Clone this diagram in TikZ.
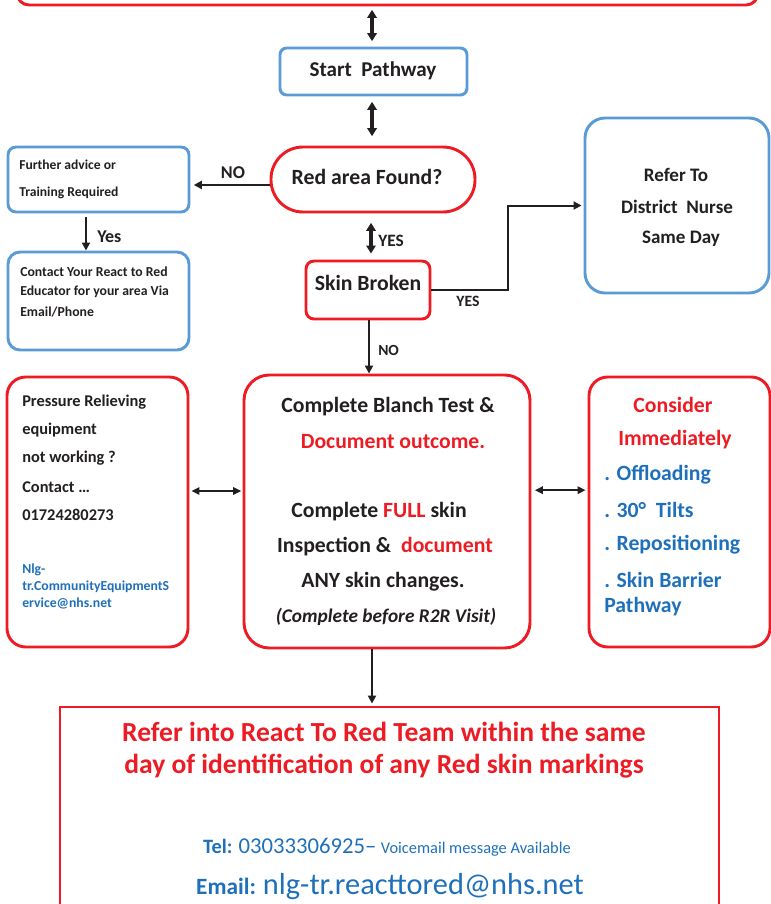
\documentclass[tikz,border=0pt]{standalone}
\usepackage{fontspec}
\setmainfont{Carlito}
\usetikzlibrary{arrows.meta}

\definecolor{rtrRed}{RGB}{237,28,36}
\definecolor{rtrBlue}{RGB}{91,155,213}
\definecolor{rtrLink}{RGB}{31,112,186}
\definecolor{rtrText}{RGB}{35,31,32}

\newcommand{\fsz}[1]{\fontsize{#1}{#1}\selectfont\bfseries}

\tikzset{
  redbox/.style={draw=rtrRed, line width=2.2pt},
  bluebox/.style={draw=rtrBlue, line width=2.2pt},
  dblarrow/.style={line width=2.4pt, {Triangle[length=6pt,width=7pt]}-{Triangle[length=6pt,width=7pt]}},
  sidearrow/.style={line width=1.4pt, {Triangle[length=6pt,width=5.5pt]}-{Triangle[length=6pt,width=5.5pt]}},
  onearrow/.style={line width=1.5pt, -{Triangle[length=6pt,width=6pt]}}
}

\begin{document}
\begin{tikzpicture}[x=0.75pt,y=0.75pt,yscale=-1,xscale=1,color=rtrText]
\useasboundingbox (0,0) rectangle (771,904);
\clip (0,0) rectangle (771,904);

%Shape: Rounded Rect (top, cut off)
\node (topBox) [redbox, minimum width=555.75pt, minimum height=52.5pt, rounded corners=9pt] at (387.5,-30) {};
%Shape: Rounded Rect
\node (startBox) [bluebox, minimum width=140.25pt, minimum height=35.25pt, rounded corners=5pt] at (373.5,71.5) {};
%Shape: Stadium
\node (foundBox) [redbox, minimum width=153pt, minimum height=48.75pt, rounded corners=24pt] at (373,179.5) {};
%Shape: Rounded Rect
\node (adviceBox) [bluebox, minimum width=135.75pt, minimum height=48.75pt, rounded corners=6pt] at (98.5,179.5) {};
%Shape: Rounded Rect
\node (contactBox) [bluebox, minimum width=135.75pt, minimum height=73.5pt, rounded corners=9pt] at (98.5,301) {};
%Shape: Rounded Rect
\node (skinBox) [redbox, minimum width=93pt, minimum height=43.5pt, rounded corners=6pt] at (368,290) {};
%Shape: Rounded Rect
\node (nurseBox) [bluebox, minimum width=138pt, minimum height=131.25pt, rounded corners=15pt] at (677,205.5) {};
%Shape: Rounded Rect
\node (equipBox) [redbox, minimum width=135.75pt, minimum height=202.5pt, rounded corners=14pt] at (97.5,512) {};
%Shape: Rounded Rect
\node (blanchBox) [redbox, minimum width=214.5pt, minimum height=204.75pt, rounded corners=19pt] at (387,511.5) {};
%Shape: Rounded Rect
\node (considerBox) [redbox, minimum width=135.75pt, minimum height=202.5pt, rounded corners=14pt] at (679.5,512) {};
%Shape: Rectangle (bottom, cut off)
\node (referBox) [redbox, minimum width=494.25pt, minimum height=159.75pt] at (389.5,813.5) {};

%Connectors (yshift goes through yscale=-1, so + is down)
\draw [dblarrow, shorten <=2.5pt, shorten >=4pt] ([xshift=-11.6pt]topBox.south) -- ([xshift=-11.6pt]topBox.south |- startBox.north);
\draw [dblarrow, shorten <=4pt, shorten >=7pt] ([xshift=-1.1pt]startBox.south) -- ([xshift=-1.1pt]startBox.south |- foundBox.north);
\draw [onearrow, shorten >=2.5pt] ([yshift=4.1pt]foundBox.west) -- ([yshift=4.1pt]adviceBox.east);
\draw [onearrow, shorten <=2.5pt, shorten >=0pt] ([xshift=-9.4pt]adviceBox.south) -- ([xshift=-9.4pt]adviceBox.south |- contactBox.north);
\draw [dblarrow, shorten <=7pt, shorten >=4.5pt] ([xshift=-1.5pt]foundBox.south) -- ([xshift=-1.5pt]foundBox.south |- skinBox.north);
\draw [onearrow, shorten >=1.5pt] (skinBox.east) -- ++(77,0) |- (nurseBox.west);
\draw [onearrow, shorten >=0pt] ([xshift=0.75pt]skinBox.south) -- ([xshift=0.75pt]skinBox.south |- blanchBox.north);
\draw [sidearrow, shorten <=1.5pt, shorten >=1pt] ([yshift=-15.75pt]equipBox.east) -- ([yshift=-15.75pt]equipBox.east -| blanchBox.west);
\draw [sidearrow, shorten <=2.5pt, shorten >=1.5pt] ([yshift=-16pt]blanchBox.east) -- ([yshift=-16pt]blanchBox.east -| considerBox.west);
\draw [onearrow, shorten >=1.5pt] ([xshift=-11.25pt]blanchBox.south) -- ([xshift=-11.25pt]blanchBox.south |- referBox.north);

% Text Node
\draw (373,71) node (startTxt) [anchor=center][inner sep=0.75pt] [font=\fsz{15.8}] {Start~ Pathway};
% Text Node
\draw (367,177) node (foundTxt) [anchor=center][inner sep=0.75pt] [font=\fsz{16.3}] {Red area Found?};
% Text Node
\draw (233,173) node (noLeft) [anchor=center][inner sep=0.75pt] [font=\fsz{13.5}] {NO};
% Text Node
\draw (18,165) node (adviceA) [anchor=west][inner sep=0.75pt] [font=\fsz{10.2}] {Further advice or};
% Text Node
\draw (18,193) node (adviceB) [anchor=west][inner sep=0.75pt] [font=\fsz{10.2}] {Training Required};
% Text Node
\draw (96,237) node (yesLeft) [anchor=west][inner sep=0.75pt] [font=\fsz{13.5}] {Yes};
% Text Node
\draw (19,272) node (contactA) [anchor=west][inner sep=0.75pt] [font=\fsz{10.3}] {Contact Your React to Red};
% Text Node
\draw (19,292) node (contactB) [anchor=west][inner sep=0.75pt] [font=\fsz{10.3}] {Educator for your area Via};
% Text Node
\draw (19,312) node (contactC) [anchor=west][inner sep=0.75pt] [font=\fsz{10.3}] {Email/Phone};
% Text Node
\draw (377,241) node (yesMid) [anchor=west][inner sep=0.75pt] [font=\fsz{13}] {YES};
% Text Node
\draw (368,283) node (skinTxt) [anchor=center][inner sep=0.75pt] [font=\fsz{16.3}] {Skin Broken};
% Text Node
\draw (468,301) node (yesRight) [anchor=center][inner sep=0.75pt] [font=\fsz{11.8}] {YES};
% Text Node
\draw (377,350) node (noMid) [anchor=west][inner sep=0.75pt] [font=\fsz{11.6}] {NO};
% Text Node
\draw (676,175) node (nurseA) [anchor=center][inner sep=0.75pt] [font=\fsz{14.3}] {Refer To};
% Text Node
\draw (677,207) node (nurseB) [anchor=center][inner sep=0.75pt] [font=\fsz{14.3}] {District~ Nurse};
% Text Node
\draw (681,239) node (nurseC) [anchor=center][inner sep=0.75pt] [font=\fsz{14.3}] {Same Day};
% Text Node
\draw (21,402) node (equipA) [anchor=west][inner sep=0.75pt] [font=\fsz{12.3}] {Pressure Relieving};
% Text Node
\draw (21,430) node (equipB) [anchor=west][inner sep=0.75pt] [font=\fsz{12.3}] {equipment};
% Text Node
\draw (21,458) node (equipC) [anchor=west][inner sep=0.75pt] [font=\fsz{12.3}] {not working ?};
% Text Node
\draw (21,487) node (equipD) [anchor=west][inner sep=0.75pt] [font=\fsz{12.3}] {Contact \dots};
% Text Node
\draw (21,515) node (equipE) [anchor=west][inner sep=0.75pt] [font=\fsz{12.3}] {01724280273};
% Text Node
\draw (21,570) node (mailA) [anchor=west][inner sep=0.75pt] [font=\fsz{10.3}, text=rtrLink] {Nlg-};
% Text Node
\draw (21,587) node (mailB) [anchor=west][inner sep=0.75pt] [font=\fsz{10.3}, text=rtrLink] {tr.CommunityEquipmentS};
% Text Node
\draw (21,603) node (mailC) [anchor=west][inner sep=0.75pt] [font=\fsz{10.3}, text=rtrLink] {ervice@nhs.net};
% Text Node
\draw (388,407) node (blanchA) [anchor=center][inner sep=0.75pt] [font=\fsz{16.3}] {Complete Blanch Test \&};
% Text Node
\draw (393,442) node (blanchB) [anchor=center][inner sep=0.75pt] [font=\fsz{16.3}, text=rtrRed] {Document outcome.};
% Text Node
\draw (379,512) node (blanchC) [anchor=center][inner sep=0.75pt] [font=\fsz{16.3}] {Complete \textcolor{rtrRed}{FULL} skin};
% Text Node
\draw (385,547) node (blanchD) [anchor=center][inner sep=0.75pt] [font=\fsz{16.3}] {Inspection \&~ \textcolor{rtrRed}{document}};
% Text Node
\draw (383,582) node (blanchE) [anchor=center][inner sep=0.75pt] [font=\fsz{16.3}] {ANY skin changes.};
% Text Node
\draw (386,617) node (blanchF) [anchor=center][inner sep=0.75pt] [font=\fsz{14.5}\itshape] {(Complete before R2R Visit)};
% Text Node
\draw (673,405) node (considerA) [anchor=center][inner sep=0.75pt] [font=\fsz{16.3}, text=rtrRed] {Consider};
% Text Node
\draw (675,440) node (considerB) [anchor=center][inner sep=0.75pt] [font=\fsz{16.3}, text=rtrRed] {Immediately};
% Text Node
\draw (603,475) node (considerC) [anchor=west][inner sep=0.75pt] [font=\fsz{16.3}, text=rtrLink] {. Offloading};
% Text Node
\draw (603,510) node (considerD) [anchor=west][inner sep=0.75pt] [font=\fsz{16.3}, text=rtrLink] {. 30°~ Tilts};
% Text Node
\draw (603,545) node (considerE) [anchor=west][inner sep=0.75pt] [font=\fsz{16.3}, text=rtrLink] {. Repositioning};
% Text Node
\draw (603,580) node (considerF) [anchor=west][inner sep=0.75pt] [font=\fsz{16.3}, text=rtrLink] {. Skin Barrier};
% Text Node
\draw (603,607) node (considerG) [anchor=west][inner sep=0.75pt] [font=\fsz{16.3}, text=rtrLink] {Pathway};
% Text Node
\draw (384,732) node (referA) [anchor=center][inner sep=0.75pt] [font=\fsz{20.7}, text=rtrRed] {Refer into React To Red Team within the same};
% Text Node
\draw (384,766) node (referB) [anchor=center][inner sep=0.75pt] [font=\fsz{20.7}, text=rtrRed] {day of identification of any Red skin markings};
% Text Node
\draw (387,847) node (telTxt) [anchor=center][inner sep=0.75pt] [font=\fsz{15.3}, text=rtrLink] {Tel: {\mdseries\fontsize{17}{17}\selectfont 03033306925--} {\mdseries\fontsize{12.3}{12.3}\selectfont Voicemail message Available}};
% Text Node
\draw (390,887) node (mailTxt) [anchor=center][inner sep=0.75pt] [font=\fsz{17.5}, text=rtrLink] {Email: {\mdseries\fontsize{22.8}{22.8}\selectfont nlg-tr.reacttored@nhs.net}};

\end{tikzpicture}
\end{document}
